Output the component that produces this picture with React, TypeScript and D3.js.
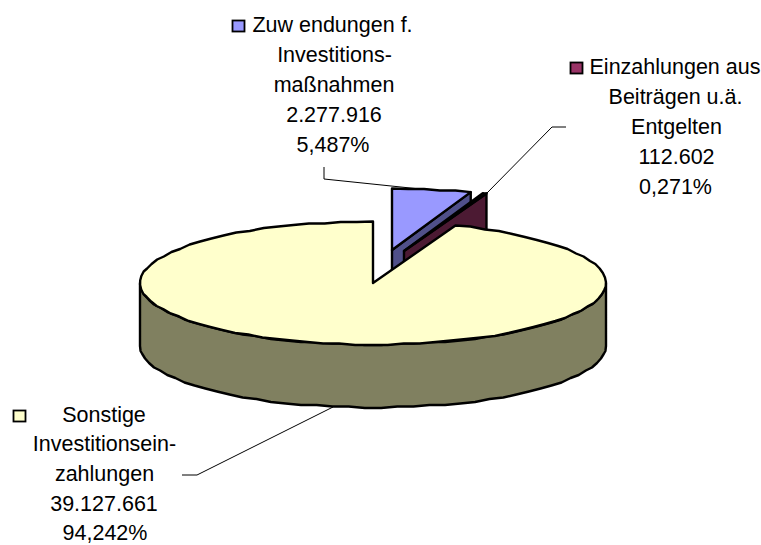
import React from "react";
import * as d3 from "d3";

const categories = ["Zuwendungen f. Investitionsmaßnahmen", "Einzahlungen aus Beiträgen u.ä. Entgelten", "Sonstige Investitionseinzahlungen"];
const values = [2277916, 112602, 39127661];
const topColors = ["#9999ff", "#993366", "#ffffcc"];
const sideColors = ["#50508a", "#4c1a33", "#808060"];
const explodeX = [19, 31, 0];
const explodeY = [-33, -32, 0];

const labels = [
  { lines: ["Zuw endungen f.", "Investitions-", "maßnahmen", "2.277.916", "5,487%"], cx: [332.5, 334.5, 334, 334, 333], y0: 32, dy: 30, key: [232.5, 20.5] },
  { lines: ["Einzahlungen aus", "Beiträgen u.ä.", "Entgelten", "112.602", "0,271%"], cx: [675, 675.5, 676.5, 676.5, 675.5], y0: 74, dy: 30, key: [570.5, 62.5] },
  { lines: ["Sonstige", "Investitionsein-", "zahlungen", "39.127.661", "94,242%"], cx: [104, 104.5, 104.5, 104, 105], y0: 421.5, dy: 29.7, key: [13.5, 410.5] },
];
const leaders = [
  [[324, 167], [324, 179], [420, 189]],
  [[487, 193], [552, 127], [566, 127]],
  [[182, 475], [197, 475], [333, 407]],
];

const cx = 373, cy = 283, rx = 233, ry = 61.5, depth = 63;
const stepDeg = 4, snap = 1.5;

export default function App() {
  const pie = d3.pie<number>().sort(null)(values);
  const rimX = d3.scaleLinear().domain([-1, 1]).range([cx - rx, cx + rx]);
  const rimY = d3.scaleLinear().domain([-1, 1]).range([cy - ry, cy + ry]);
  const line = d3.line();
  const q = (v: number) => Math.round(v / snap) * snap;
  const rim = (a0: number, a1: number, ox: number, oy: number, rough = true) => {
    const n = Math.max(2, Math.round(((a1 - a0) * 180) / Math.PI / stepDeg));
    return d3.range(0, n + 1).map((i) => {
      const a = a0 + ((a1 - a0) * i) / n;
      const x = rimX(Math.sin(a)) + ox, y = rimY(-Math.cos(a)) + oy;
      return (rough && i > 0 && i < n ? [x, q(y)] : [x, y]) as [number, number];
    });
  };
  const top = (i: number) => {
    const p = pie[i];
    const ox = explodeX[i], oy = explodeY[i];
    return line([[cx + ox, cy + oy], ...rim(p.startAngle, p.endAngle, ox, oy)])! + "Z";
  };
  const cut = (i: number) => {
    const p = pie[i];
    const ox = explodeX[i], oy = explodeY[i];
    const e = rim(p.endAngle - 0.001, p.endAngle, ox, oy).slice(-1)[0];
    return line([[cx + ox, cy + oy], e, [e[0], e[1] + depth], [cx + ox, cy + oy + depth]])! + "Z";
  };
  const front = (() => {
    const r = rim(Math.PI / 2, (3 * Math.PI) / 2, 0, 0);
    return line([...r, ...r.slice().reverse().map(([x, y]) => [x, y + depth] as [number, number])])! + "Z";
  })();
  const font = "'Liberation Sans', Arial, sans-serif";
  return (
    <svg width={761} height={545} style={{ position: "absolute", left: 0, top: 0 }}>
      <rect width={761} height={545} fill="#fff" />
      {leaders.map((l, i) => (
        <path key={i} d={line(l as [number, number][])!} fill="none" stroke="#000" strokeWidth={1} />
      ))}
      {[0, 1].map((i) => (
        <g key={i} stroke="#000" strokeWidth={2.4} strokeLinejoin="round">
          <path d={cut(i)} fill={sideColors[i]} />
          <path d={top(i)} fill={topColors[i]} />
        </g>
      ))}
      <path d={front} fill={sideColors[2]} stroke="#000" strokeWidth={2.4} strokeLinejoin="round" />
      <path d={top(2)} fill={topColors[2]} stroke="#000" strokeWidth={2.4} strokeLinejoin="round" />
      {labels.map((l, i) => (
        <g key={i}>
          <rect x={l.key[0]} y={l.key[1]} width={12} height={11} fill={topColors[i]} stroke="#000" strokeWidth={1.8} />
          {l.lines.map((t, j) => (
            <text key={j} x={l.cx[j]} y={l.y0 + j * l.dy} textAnchor="middle" fontFamily={font} fontSize={21.5} fill="#000">
              {t}
            </text>
          ))}
        </g>
      ))}
    </svg>
  );
}
